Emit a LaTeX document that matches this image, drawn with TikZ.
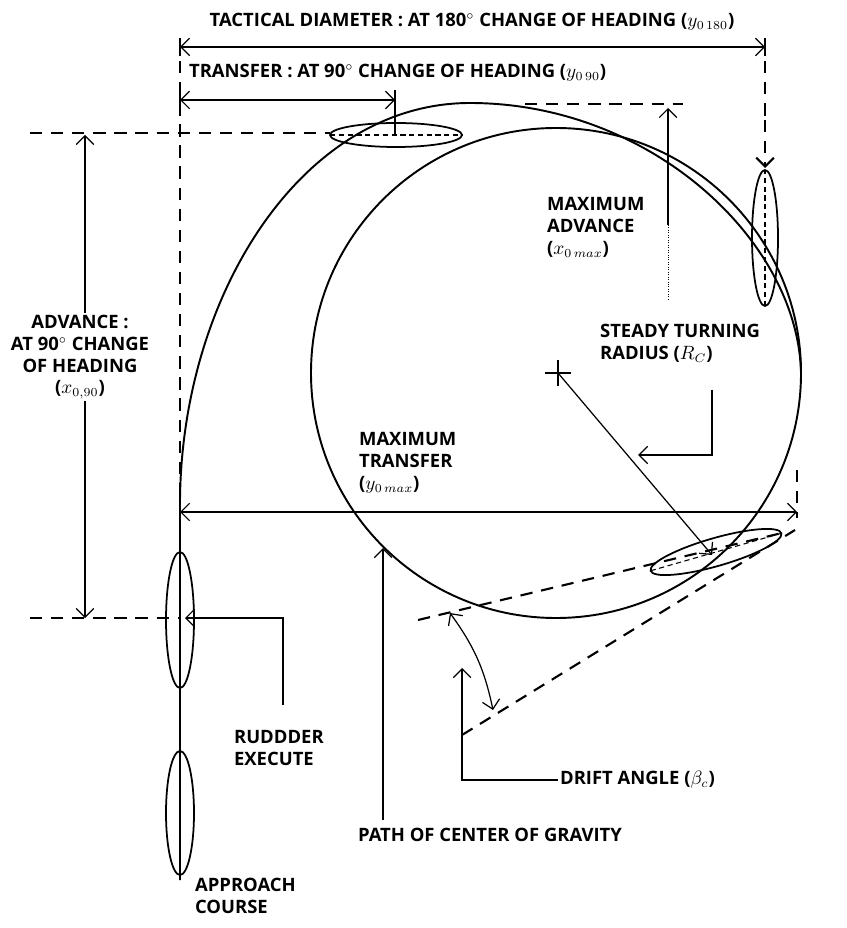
\documentclass[tikz,border=0pt]{standalone}
\usepackage{fontspec}
\setmainfont{Open Sans}
\usetikzlibrary{arrows.meta}
\begin{document}
\begin{tikzpicture}[x=0.02cm,y=-0.02cm]
        % Define styles
        \tikzset{
            label/.style={font=\fontsize{10.5}{12.5}\selectfont\bfseries, align=left, inner sep=1pt},
            dim/.style={<->,>={Straight Barb[length=5pt]}, line width=0.7pt},
            arrow/.style={->,>={Straight Barb[length=5pt]}, line width=0.7pt},
            guide/.style={dashed, line width=1.2pt, dash pattern=on 7pt off 5pt},
            hull/.style={line width=1pt},
            keel/.style={densely dashed, line width=0.6pt}
        }
        \useasboundingbox (0,0) rectangle (847,928);

        % Ships
        \foreach \cx/\cy/\rot/\rx/\ry in {396/135/0/66/12, 765/238/90/68/13, 716/552/16/68/14, 180/620/90/68/14, 180/813/90/62/14}{
            \draw[hull, shift={(\cx,\cy)}, rotate=\rot] (0,0) ellipse (\rx cm*0.02 and \ry cm*0.02);
            \draw[keel, shift={(\cx,\cy)}, rotate=\rot] (-\rx cm*0.02,0) -- (\rx cm*0.02,0);
        }

        % Path of the turn
        \draw[line width=1.1pt] (180,880) -- (180,510) .. controls (178,300) and (300,103) .. (470,103)
            .. controls (650,103) and (798,240) .. (801,373);
        \draw[line width=1.1pt] (556,373) circle (245);

        % Coordinates
        \coordinate (tdL) at (180,47);
        \coordinate (tdR) at (765,47);
        \coordinate (trL) at (180,100);
        \coordinate (trR) at (395,100);
        \coordinate (adT) at (85,135);
        \coordinate (adB) at (85,618);
        \coordinate (mtL) at (180,512);
        \coordinate (mtR) at (797,512);
        \coordinate (centre) at (558,373);
        \coordinate (stern) at (712,555);

        % Guide lines
        \draw[guide] (180,40) -- (180,618);
        \draw[guide] (765,40) -- (765,120);
        \draw[guide, -{Straight Barb[length=5pt]}] (765,120) -- (765,168);
        \draw[guide] (30,133) -- (330,133);
        \draw[guide] (30,618) -- (180,618);
        \draw[guide] (525,104) -- (683,104);
        \draw[guide] (797,470) -- (797,518);
        \draw[guide] (418,620) -- (782,533);
        \draw[guide] (462,735) -- (795,530);
        \draw[line width=0.7pt] (180,38) -- (180,56) (765,38) -- (765,56);
        \draw[line width=0.7pt] (180,90) -- (180,108) (395,90) -- (395,135);

        % Dimension arrows
        \draw[dim] (tdL) -- (tdR);
        \draw[dim] (trL) -- (trR);
        \draw[dim] (mtL) -- (mtR);
        \draw[dim] (adT) -- (adB);
        \draw[arrow] (668,225) -- (668,108);
        \draw[densely dotted] (668,225) -- (668,300);
        \draw[arrow] (centre) -- (stern);
        \draw[line width=0.7pt] (545,373) -- (571,373) (558,360) -- (558,386);
        \draw[dim, bend left=12] (450,613) to (493,710);

        % Labels
        \node[label] (tdlab) at (472,22) {TACTICAL DIAMETER : AT 180$^\circ$ CHANGE OF HEADING ($y_{0\,180}$)};
        \node[label, anchor=west] (trlab) at (187,73) {TRANSFER : AT 90$^\circ$ CHANGE OF HEADING ($y_{0\,90}$)};
        \node[label, anchor=north west] (malab) at (545,195) {MAXIMUM\\ADVANCE\\($x_{0\,max}$)};
        \node[label, anchor=north west] (rclab) at (598,322) {STEADY TURNING\\RADIUS ($R_C$)};
        \node[label, align=center, fill=white] (adlab) at (80,357) {ADVANCE :\\AT 90$^\circ$ CHANGE\\OF HEADING\\($x_{0,90}$)};
        \node[label, anchor=north west] (mtlab) at (357,430) {MAXIMUM\\TRANSFER\\($y_{0\,max}$)};
        \node[label, anchor=north west] (rulab) at (232,728) {RUDDDER\\EXECUTE};
        \node[label, anchor=west] (dalab) at (558,780) {DRIFT ANGLE ($\beta_c$)};
        \node[label] (pglab) at (490,835) {PATH OF CENTER OF GRAVITY};
        \node[label, anchor=north west] (aclab) at (193,876) {APPROACH\\COURSE};

        % Leaders
        \draw[arrow] (712,390) -- (712,455) -- (638,455);
        \draw[arrow] (283,705) -- (283,618) -- (185,618);
        \draw[arrow] (dalab.west) -| (462,668);
        \draw[arrow] (383,820) -- (383,548);
\end{tikzpicture}
\end{document}
